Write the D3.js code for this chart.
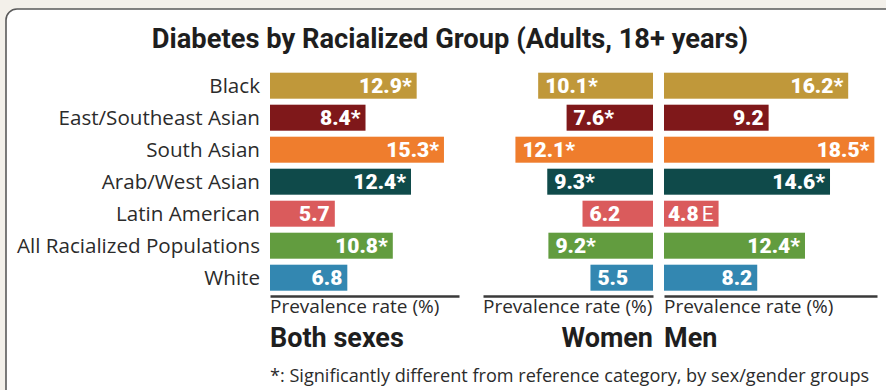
<!DOCTYPE html>
<html>
<head>
<meta charset="utf-8">
<script src="https://cdn.jsdelivr.net/npm/d3@7"></script>
<style>
  html, body { margin: 0; padding: 0; background: #f3f0ea; }
  svg { display: block; }
</style>
</head>
<body>
<svg id="chart" width="886" height="390"></svg>
<script>
// ---- data ----
const categories = ["Black", "East/Southeast Asian", "South Asian", "Arab/West Asian", "Latin American", "All Racialized Populations", "White"];
const colors = ["#c0983a", "#7f181a", "#ef7d2d", "#0f4a4a", "#da5b5c", "#629c3f", "#3387b1"];
const bothSexes = [12.9, 8.4, 15.3, 12.4, 5.7, 10.8, 6.8];
const women = [10.1, 7.6, 12.1, 9.3, 6.2, 9.2, 5.5];
const men = [16.2, 9.2, 18.5, 14.6, 4.8, 12.4, 8.2];
const bothFlags = ["*", "*", "*", "*", "", "*", ""];
const womenFlags = ["*", "*", "*", "*", "", "*", ""];
const menFlags = ["*", "", "*", "*", "E", "*", ""];
const title = "Diabetes by Racialized Group (Adults, 18+ years)";
const axisLabel = "Prevalence rate (%)";
const panelTitles = ["Both sexes", "Women", "Men"];
const footnote = "*: Significantly different from reference category, by sex/gender groups";

// ---- layout ----
const svg = d3.select("#chart");
const pxPerUnit = 11.37;

svg.append("rect")
  .attr("x", 6).attr("y", 9).attr("width", 900).attr("height", 420)
  .attr("rx", 11).attr("ry", 11)
  .attr("fill", "#ffffff").attr("stroke", "#5a5a5a").attr("stroke-width", 1.6);

svg.append("text")
  .attr("x", 450).attr("y", 48)
  .attr("text-anchor", "middle")
  .attr("font-family", "Roboto, sans-serif")
  .attr("font-weight", 700)
  .attr("font-size", 27.3)
  .attr("fill", "#1e1e1e")
  .text(title);

const y = d3.scaleBand()
  .domain(categories)
  .range([69.7, 293.7])
  .paddingInner(0.1875)
  .paddingOuter(0.09375);

// category labels
svg.append("g").selectAll("text")
  .data(categories)
  .join("text")
  .attr("x", 260)
  .attr("y", d => y(d) + y.bandwidth() / 2 + 7)
  .attr("text-anchor", "end")
  .attr("font-family", "'Open Sans', sans-serif")
  .attr("font-size", 20.6)
  .attr("fill", "#2b2b2b")
  .text(d => d);

const panels = [
  { values: bothSexes, flags: bothFlags, x0: 270, x1: 459, dir: 1, name: panelTitles[0] },
  { values: women, flags: womenFlags, x0: 653, x1: 483, dir: -1, name: panelTitles[1] },
  { values: men, flags: menFlags, x0: 664, x1: 877, dir: 1, name: panelTitles[2] }
];

panels.forEach(p => {
  const maxV = Math.abs(p.x1 - p.x0) / pxPerUnit;
  const x = d3.scaleLinear().domain([0, maxV]).range([p.x0, p.x1]);
  const g = svg.append("g");

  g.selectAll("rect")
    .data(p.values)
    .join("rect")
    .attr("x", d => Math.min(x(0), x(d)))
    .attr("y", (d, i) => y(categories[i]))
    .attr("width", d => Math.abs(x(d) - x(0)))
    .attr("height", y.bandwidth())
    .attr("fill", (d, i) => colors[i]);

  const labels = g.selectAll("text.val")
    .data(p.values)
    .join("text")
    .attr("class", "val")
    .attr("x", d => p.dir > 0 ? x(d) - 5 : x(d) + 7)
    .attr("y", (d, i) => y(categories[i]) + y.bandwidth() / 2 + 7.4)
    .attr("text-anchor", p.dir > 0 ? "end" : "start")
    .attr("font-family", "Roboto, sans-serif")
    .attr("font-weight", 900)
    .attr("font-size", 21)
    .attr("fill", "#ffffff");
  labels.append("tspan").text(d => d.toFixed(1));
  labels.append("tspan")
    .attr("font-weight", (d, i) => p.flags[i] === "E" ? 400 : 900)
    .attr("dx", (d, i) => p.flags[i] === "E" ? 3 : 0)
    .text((d, i) => p.flags[i]);

  // axis baseline
  const axis = d3.axisBottom(x).tickValues([]).tickSizeOuter(0);
  const ag = g.append("g").attr("transform", "translate(0,296)").call(axis);
  ag.select(".domain").attr("stroke", "#3a3a3a").attr("stroke-width", 2.4);

  const left = Math.min(p.x0, p.x1), right = Math.max(p.x0, p.x1);
  g.append("text")
    .attr("x", left).attr("y", 313)
    .attr("font-family", "'Open Sans', sans-serif")
    .attr("font-size", 19)
    .attr("fill", "#2b2b2b")
    .text(axisLabel);
  g.append("text")
    .attr("x", p.dir > 0 ? left : right).attr("y", 346.5)
    .attr("text-anchor", p.dir > 0 ? "start" : "end")
    .attr("font-family", "Roboto, sans-serif")
    .attr("font-weight", 700)
    .attr("font-size", 27)
    .attr("fill", "#1e1e1e")
    .text(p.name);
});

svg.append("text")
  .attr("x", 270).attr("y", 382)
  .attr("font-family", "'Open Sans', sans-serif")
  .attr("font-size", 18.1)
  .attr("fill", "#2b2b2b")
  .text(footnote);
</script>
</body>
</html>
